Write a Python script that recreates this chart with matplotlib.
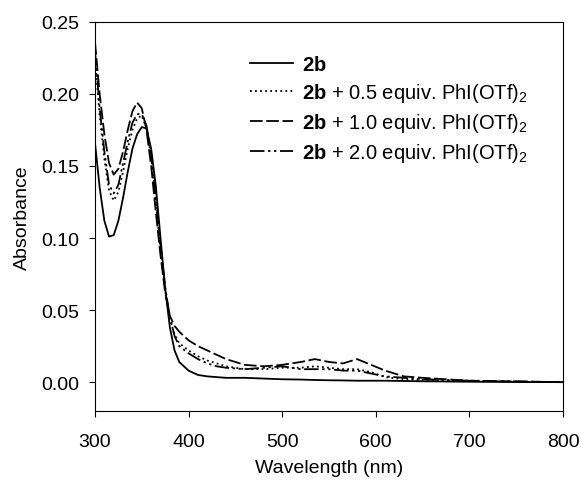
import matplotlib
matplotlib.use("Agg")
from matplotlib import pyplot as plt
from matplotlib.ticker import FormatStrFormatter, MultipleLocator

plt.rcParams["font.family"] = ["Liberation Sans", "DejaVu Sans"]
plt.rcParams["mathtext.fontset"] = "custom"
plt.rcParams["mathtext.rm"] = "Liberation Sans"
plt.rcParams["mathtext.bf"] = "Liberation Sans:bold"

# wavelength grid (nm), shared by all spectra
wavelength = [300, 305, 310, 315, 320, 325, 330, 335, 340, 345, 350, 355, 360,
              365, 370, 375, 380, 385, 390, 400, 410, 420, 430, 440, 460, 480,
              500, 520, 535, 550, 565, 580, 595, 610, 630, 650, 700, 750, 800]

abs_2b = [0.166, 0.135, 0.112, 0.101, 0.102, 0.112, 0.128, 0.146, 0.162, 0.172,
          0.177, 0.176, 0.162, 0.136, 0.100, 0.065, 0.038, 0.022, 0.014, 0.008,
          0.005, 0.004, 0.0035, 0.003, 0.003, 0.0025, 0.002, 0.0018, 0.0015,
          0.0013, 0.0012, 0.001, 0.001, 0.001, 0.0008, 0.0006, 0.0003, 0.0001, 0.0]

abs_05 = [0.225, 0.185, 0.155, 0.133, 0.126, 0.132, 0.146, 0.162, 0.175, 0.183,
          0.185, 0.176, 0.156, 0.125, 0.092, 0.064, 0.044, 0.033, 0.027, 0.022,
          0.018, 0.015, 0.013, 0.011, 0.009, 0.009, 0.010, 0.010, 0.011, 0.010,
          0.009, 0.009, 0.007, 0.0035, 0.002, 0.0015, 0.0008, 0.0003, 0.0]

abs_10 = [0.236, 0.200, 0.172, 0.152, 0.144, 0.148, 0.160, 0.175, 0.188, 0.194,
          0.190, 0.175, 0.150, 0.118, 0.088, 0.062, 0.046, 0.039, 0.035, 0.029,
          0.025, 0.022, 0.019, 0.016, 0.012, 0.011, 0.012, 0.014, 0.016, 0.014,
          0.013, 0.016, 0.012, 0.008, 0.004, 0.003, 0.001, 0.0005, 0.0]

abs_20 = [0.230, 0.190, 0.160, 0.137, 0.131, 0.137, 0.152, 0.167, 0.180, 0.186,
          0.186, 0.178, 0.158, 0.128, 0.095, 0.066, 0.045, 0.032, 0.025, 0.020,
          0.016, 0.013, 0.011, 0.010, 0.009, 0.010, 0.011, 0.009, 0.009, 0.009,
          0.008, 0.008, 0.006, 0.004, 0.003, 0.002, 0.001, 0.0005, 0.0]

labels = [
    r"$\mathbf{2b}$",
    r"$\mathbf{2b}$ + 0.5 equiv. PhI(OTf)$_2$",
    r"$\mathbf{2b}$ + 1.0 equiv. PhI(OTf)$_2$",
    r"$\mathbf{2b}$ + 2.0 equiv. PhI(OTf)$_2$",
]

fig = plt.figure(figsize=(5.81, 4.81), dpi=100)
ax = fig.add_axes([0.1635, 0.1435, 0.8055, 0.809])

ax.plot(wavelength, abs_2b, color="black", lw=1.3, linestyle="-", label=labels[0])
ax.plot(wavelength, abs_05, color="black", lw=1.3, linestyle=(0, (1, 1.8)), label=labels[1])
ax.plot(wavelength, abs_10, color="black", lw=1.3, linestyle=(0, (7, 2)), label=labels[2])
ax.plot(wavelength, abs_20, color="black", lw=1.3,
        linestyle=(0, (8, 2, 1.3, 2, 1.3, 2)), label=labels[3])

ax.set_xlim(300, 800)
ax.set_ylim(-0.02, 0.25)
ax.xaxis.set_major_locator(MultipleLocator(100))
ax.yaxis.set_major_locator(MultipleLocator(0.05))
ax.yaxis.set_major_formatter(FormatStrFormatter("%.2f"))
ax.tick_params(direction="out", length=4, labelsize=14)
ax.tick_params(axis="x", pad=12)
ax.tick_params(axis="y", pad=7)
ax.set_xlabel("Wavelength (nm)", fontsize=14, labelpad=6)
ax.set_ylabel("Absorbance", fontsize=14, labelpad=8)

ax.legend(loc="upper left", bbox_to_anchor=(0.331, 0.915), frameon=False,
          fontsize=14.5, borderpad=0, handlelength=2.15, handletextpad=0.45,
          labelspacing=0.35, borderaxespad=0)

fig.savefig("out.png", dpi=100)
